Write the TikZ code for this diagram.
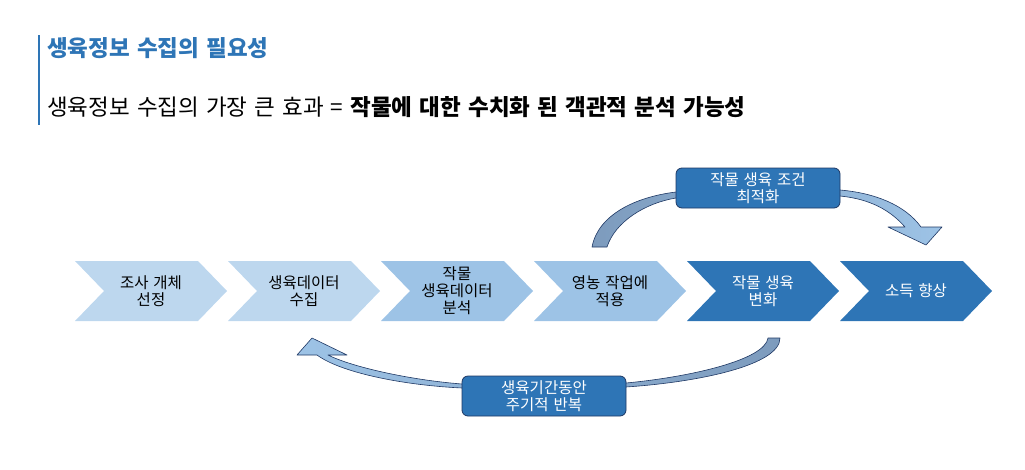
\documentclass[tikz,border=0pt]{standalone}
\usepackage{fontspec}
\setmainfont[WordSpace=1.4]{Noto Sans CJK KR}
\definecolor{mainblue}{HTML}{2E75B6}
\definecolor{lightblue}{HTML}{BDD7EE}
\definecolor{midblue}{HTML}{9DC3E6}
\definecolor{greyblue}{HTML}{7D9BBD}
\definecolor{navy}{HTML}{1F3864}
\tikzset{
  chev/.style={fill=#1, draw=none},
  chevtext/.style={align=center, font=\fontsize{15.5}{17}\selectfont, inner sep=0pt},
  boxnode/.style={draw=navy, line width=0.8pt, fill=mainblue, rounded corners=6pt,
    minimum width=164pt, minimum height=40pt, text=white, align=center,
    font=\fontsize{15.5}{16.5}\selectfont, inner sep=0pt},
  band/.style={draw=navy, line width=0.6pt, line join=round}
}
\begin{document}
\begin{tikzpicture}[x=1pt,y=-1pt]
\useasboundingbox (0,0) rectangle (1025,469);
% title bar
\draw[mainblue, line width=2.6pt] (39,35) -- (39,125);
\node[anchor=west, inner sep=0pt, text=mainblue, font=\fontsize{22.5}{24}\selectfont\bfseries] (title) at (47,48) {생육정보 수집의 필요성};
\node[anchor=west, inner sep=0pt, font=\fontsize{22.5}{24}\selectfont] (sub) at (47,107) {생육정보 수집의 가장 큰 효과 = \textbf{작물에 대한 수치화 된 객관적 분석 가능성}};
% chevrons
\foreach \L/\c/\tc/\t [count=\i] in {
  75/lightblue/black/{조사 개체\\선정},
  228/lightblue/black/{생육데이터\\수집},
  381/midblue/black/{작물\\생육데이터\\분석},
  534/midblue/black/{영농 작업에\\적용},
  687/mainblue/white/{작물 생육\\변화},
  840/mainblue/white/{소득 향상}}{
  \path[chev=\c] (\L,261) -- ++(123,0) -- ++(29,30) -- ++(-29,30) -- ++(-123,0) -- ++(29,-30) -- cycle;
  \node[chevtext, text=\tc] (c\i) at (\L+76,291) {\t};
}
% top curved arrow
\path[band, left color=greyblue, right color=midblue]
  (592,247) .. controls (598,215) and (635,197) .. (676,192)
  -- (840,190) .. controls (875,193) and (905,205) .. (921,227)
  -- (942,227) -- (926,245) -- (888,227) -- (905,227)
  .. controls (890,210) and (870,199) .. (840,196)
  -- (676,198) .. controls (645,203) and (615,222) .. (607,247) -- cycle;
% bottom curved arrow
\path[band, left color=midblue, right color=greyblue]
  (780,338) .. controls (780,365) and (700,382) .. (626,387)
  -- (462,388) .. controls (400,385) and (340,372) .. (317,355)
  -- (297,355) -- (312,338) -- (347,355) -- (328,355)
  .. controls (352,367) and (410,380) .. (462,384)
  -- (626,383) .. controls (690,377) and (765,360) .. (768,338) -- cycle;
% boxes
\node[boxnode] (b1) at (758,188) {작물 생육 조건\\최적화};
\node[boxnode] (b2) at (544,396) {생육기간동안\\주기적 반복};
\end{tikzpicture}
\end{document}
